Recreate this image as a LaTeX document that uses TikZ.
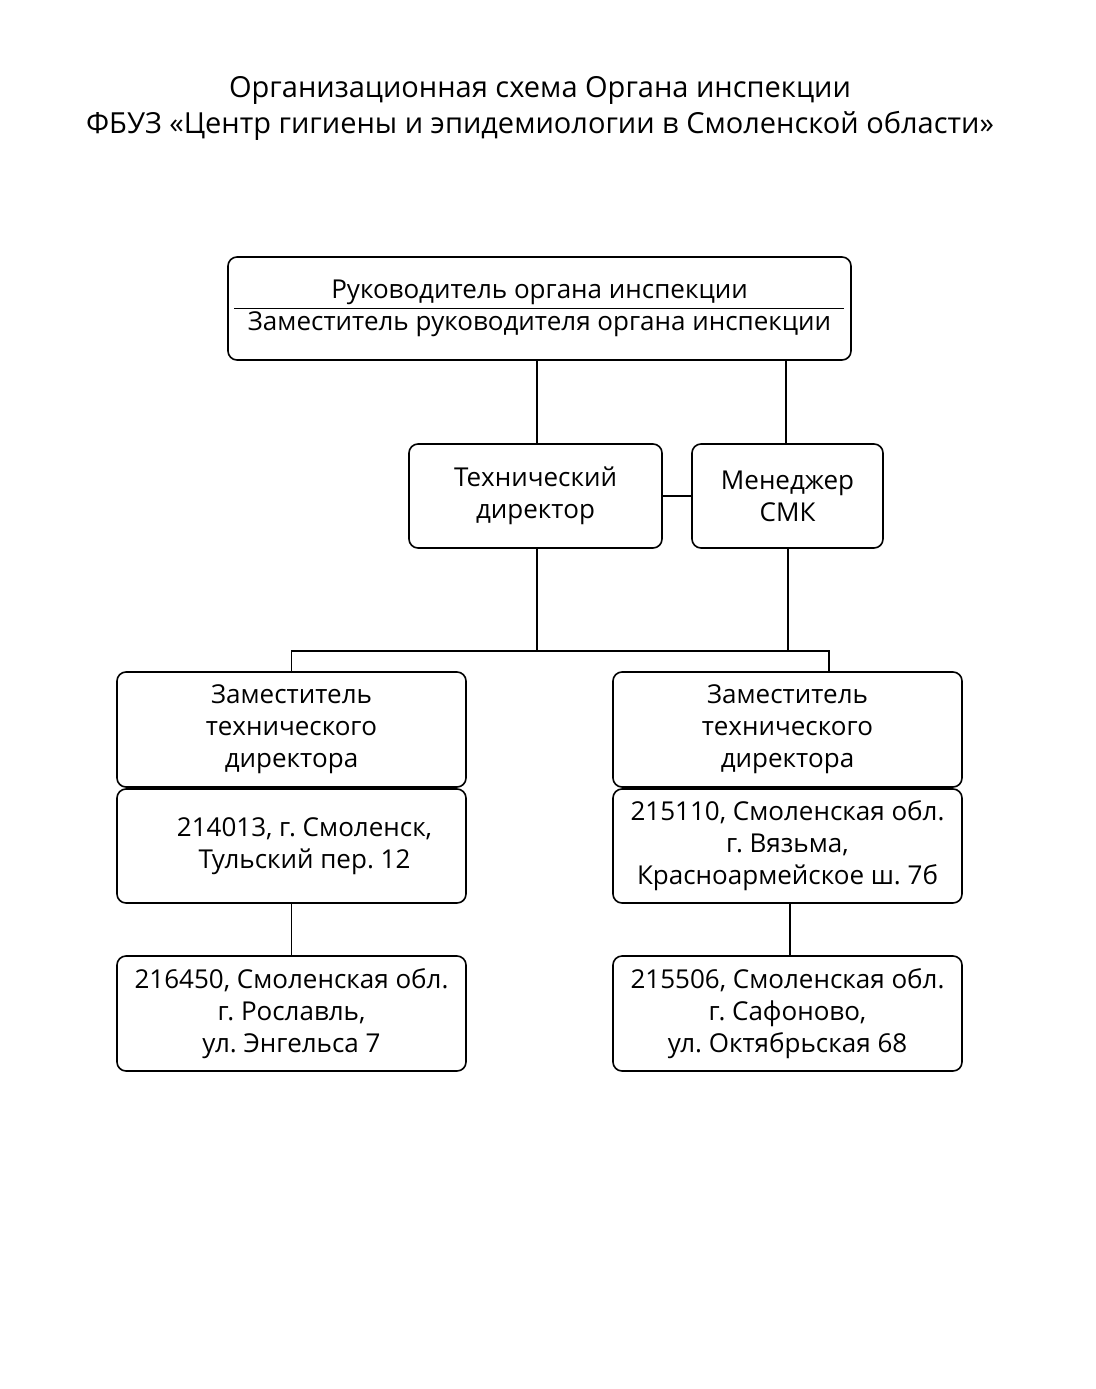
\documentclass[tikz,border=0pt]{standalone}
\usepackage{fontspec}
\setmainfont{Open Sans}
\frenchspacing
\usetikzlibrary{calc}
\tikzset{
  box/.style={draw, line width=1.6pt, rounded corners=9pt, align=center,
    inner sep=0pt, font=\fontsize{26}{32}\selectfont},
  link/.style={line width=1.5pt}
}

\begin{document}
\begin{tikzpicture}[x=1pt,y=-1pt]
  \useasboundingbox (0,0) rectangle (1095,1389);
  \node (title) [align=center, font=\fontsize{29}{36}\selectfont] at (540,108)
    {Организационная схема Органа инспекции\\
     ФБУЗ «Центр гигиены и эпидемиологии в Смоленской области»};

  \node (head) [box, minimum width=623pt, minimum height=103pt] at (539.5,308.5)
    {Руководитель органа инспекции\\Заместитель руководителя органа инспекции};
  \draw [line width=1.2pt] ($(head.west)+(7,0)$) -- ($(head.east)+(-8,0)$);

  \node (tech) [box, minimum width=253pt, minimum height=104pt] at (535.5,496)
    {Технический\\директор};
  \node (smk) [box, minimum width=191pt, minimum height=104pt] at (787.5,496)
    {Менеджер\\СМК};

  \node (depL) [box, minimum width=349pt, minimum height=115pt] at (291.5,729.5)
    {Заместитель\\технического\\директора};
  \node (depR) [box, minimum width=349pt, minimum height=115pt] at (787.5,729.5)
    {Заместитель\\технического\\директора};

  \node (smol) [box, minimum width=349pt, minimum height=114pt] at (291.5,846)
    {\hspace*{26pt}214013, г. Смоленск,\\\hspace*{26pt}Тульский пер. 12};
  \node (vyaz) [box, minimum width=349pt, minimum height=114pt] at (787.5,846)
    {215110, Смоленская обл.\\г. Вязьма,\\Красноармейское ш. 7б};

  \node (rosl) [box, minimum width=349pt, minimum height=115pt] at (291.5,1013.5)
    {216450, Смоленская обл.\\г. Рославль,\\ул. Энгельса 7};
  \node (safo) [box, minimum width=349pt, minimum height=115pt] at (787.5,1013.5)
    {215506, Смоленская обл.\\г. Сафоново,\\ул. Октябрьская 68};

  % links
  \coordinate (bus) at (0,651);
  \draw [link] ($(tech.north)+(1.5,0)$) coordinate (t1) -- (t1 |- head.south);
  \draw [link] ($(smk.north)+(-1.5,0)$) coordinate (s1) -- (s1 |- head.south);
  \draw [link] (tech.east) -- (smk.west);
  \draw [link] ($(tech.south)+(1.5,0)$) coordinate (t2) -- (t2 |- bus);
  \draw [link] ($(smk.south)+(0.5,0)$) coordinate (s2) -- (s2 |- bus);
  \draw [link] ($(depR.north)+(41.5,0)$) coordinate (r1);
  \draw [link] (depL.north) -- (depL.north |- bus) -- (r1 |- bus) -- (r1);
  \draw [link] (smol.south) -- (rosl.north);
  \draw [link] ($(vyaz.south)+(2.5,0)$) coordinate (v1) -- (v1 |- safo.north);
\end{tikzpicture}
\end{document}
